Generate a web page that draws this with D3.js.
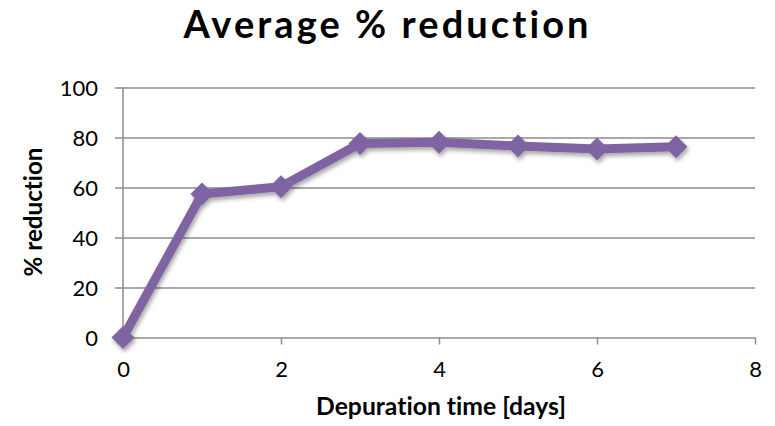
<!DOCTYPE html>
<html>
<head>
<meta charset="utf-8">
<script src="https://cdn.jsdelivr.net/npm/d3@7"></script>
<style>
  html, body { margin: 0; padding: 0; background: #fff; }
  svg { display: block; font-family: Lato, "Open Sans", sans-serif; font-variant-ligatures: none; }
</style>
</head>
<body>
<svg id="chart" width="775" height="426"></svg>
<script>
// Depuration time (days) and average % reduction
const days = [0, 1, 2, 3, 4, 5, 6, 7];
const reduction = [0, 57.4, 60.3, 77.6, 78.1, 76.6, 75.4, 76.3];
const xTicks = [0, 2, 4, 6, 8];
const yTicks = [0, 20, 40, 60, 80, 100];

const titleText = "Average % reduction";
const xTitle = "Depuration time [days]";
const yTitle = "% reduction";

const lineColor = "#8064A2";
const gridColor = "#8c8c8c";
const fontFamily = "Lato, 'Open Sans', sans-serif";

const svg = d3.select("#chart");
const left = 123, right = 755;

const x = d3.scaleLinear().domain([0, 8]).range([left, right]);
const y = d3.scaleLinear().domain([0, 100]).range([337.5, 87.5]);

// Soft shadow under the series
const defs = svg.append("defs");
const f = defs.append("filter").attr("id", "shadow")
  .attr("x", "-20%").attr("y", "-20%").attr("width", "140%").attr("height", "140%");
f.append("feDropShadow").attr("dx", 1.5).attr("dy", 3).attr("stdDeviation", 2)
  .attr("flood-color", "#000").attr("flood-opacity", 0.35);

// Horizontal gridlines with left tick marks
const yAxis = d3.axisLeft(y).tickValues(yTicks).tickSize(0).tickFormat(d3.format("d"));
const gy = svg.append("g").attr("transform", `translate(${left},0)`).call(yAxis)
  .attr("font-family", fontFamily);
gy.select(".domain").remove();
gy.selectAll(".tick line").attr("stroke", gridColor).attr("stroke-width", 1.5)
  .attr("x1", -8).attr("x2", right - left);
gy.selectAll(".tick text").attr("font-size", 22).attr("fill", "#000").attr("x", -25).attr("dy", "0.36em");

// Vertical axis line
svg.append("line").attr("x1", left).attr("x2", left)
  .attr("y1", y(100)).attr("y2", y(0)).attr("stroke", gridColor).attr("stroke-width", 1.5);

// Bottom axis ticks and labels
const xAxis = d3.axisBottom(x).tickValues(xTicks).tickSize(7).tickPadding(17).tickFormat(d3.format("d"));
const gx = svg.append("g").attr("transform", `translate(0,${y(0)})`).call(xAxis)
  .attr("font-family", fontFamily);
gx.select(".domain").remove();
gx.selectAll(".tick line").attr("stroke", gridColor).attr("stroke-width", 1.5)
  .filter(d => d === 0).remove();
gx.selectAll(".tick text").attr("font-size", 22).attr("fill", "#000");

// Series
const data = days.map((d, i) => ({ d, v: reduction[i] }));
const series = svg.append("g").attr("filter", "url(#shadow)");
series.append("path").datum(data)
  .attr("fill", "none").attr("stroke", lineColor).attr("stroke-width", 9)
  .attr("stroke-linejoin", "round")
  .attr("d", d3.line().x(p => x(p.d)).y(p => y(p.v)));
series.selectAll(".pt").data(data).join("path").attr("class", "pt")
  .attr("transform", p => `translate(${x(p.d)},${y(p.v)})`)
  .attr("d", "M0,-11.5L11.5,0L0,11.5L-11.5,0Z")
  .attr("fill", lineColor);

// Scale a text's font size so it spans the given width
function fit(sel, width) {
  const w = sel.node().getComputedTextLength();
  const fs = parseFloat(sel.attr("font-size"));
  sel.attr("font-size", fs * width / w);
}

// Titles
svg.append("text").attr("x", 386).attr("y", 38).attr("text-anchor", "middle")
  .attr("font-weight", "bold").attr("font-size", 38)
  .attr("textLength", 405).attr("lengthAdjust", "spacing").text(titleText);

const xt = svg.append("text").attr("x", 441).attr("y", 415).attr("text-anchor", "middle")
  .attr("font-weight", "bold").attr("font-size", 17).text(xTitle);
fit(xt, 250);

const yt = svg.append("text").attr("transform", "translate(42,212) rotate(-90)")
  .attr("text-anchor", "middle").attr("font-weight", "bold").attr("font-size", 17).text(yTitle);
fit(yt, 129);
</script>
</body>
</html>
